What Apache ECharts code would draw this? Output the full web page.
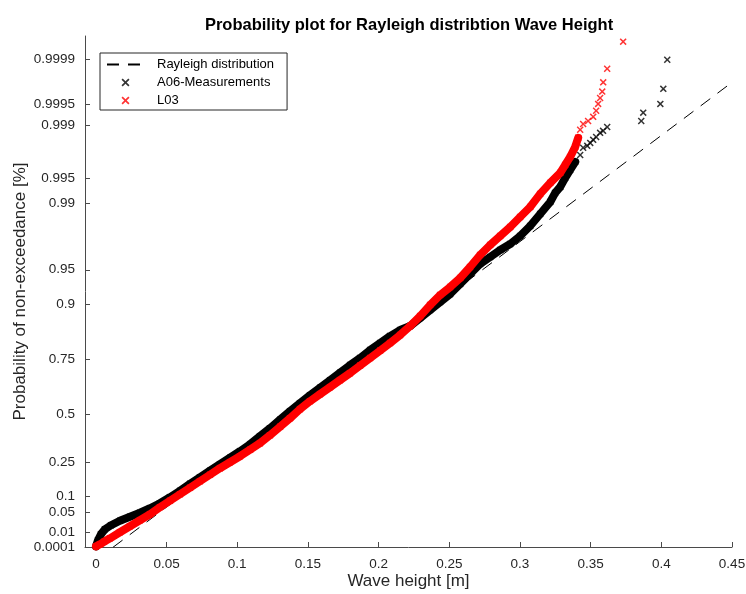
<!DOCTYPE html>
<html>
<head>
<meta charset="utf-8">
<script src="https://cdn.jsdelivr.net/npm/echarts@6/dist/echarts.min.js"></script>
<style>
  html, body { margin: 0; padding: 0; background: #ffffff; }
  #chart { width: 746px; height: 594px; }
</style>
</head>
<body>
<div id="chart"></div>
<script>
// Probability paper tick labels (non-exceedance probability)
const probTickLabels = ['0.0001', '0.01', '0.05', '0.1', '0.25', '0.5', '0.75', '0.9', '0.95', '0.99', '0.995', '0.999', '0.9995', '0.9999'];
const heightTicks = [0, 0.05, 0.1, 0.15, 0.2, 0.25, 0.3, 0.35, 0.4, 0.45];

// Fitted Rayleigh reference line (end points)
const rayleighHeight = [0.0121, 0.45];
const rayleighProb = [0.000065, 0.99977];

// A06 measurements: sorted wave heights [m] and plotting positions
const a06Height = [0.0001, 0.0015, 0.0036, 0.0064, 0.0107, 0.0170, 0.0241, 0.0312, 0.0383, 0.0453,
  0.0524, 0.0595, 0.0666, 0.0736, 0.0807, 0.0878, 0.0949, 0.1020, 0.1091, 0.1161,
  0.1232, 0.1303, 0.1374, 0.1444, 0.1515, 0.1586, 0.1657, 0.1727, 0.1798, 0.1869,
  0.1940, 0.2011, 0.2081, 0.2152, 0.2223, 0.2294, 0.2364, 0.2435, 0.2506, 0.2577,
  0.2647, 0.2718, 0.2789, 0.2860, 0.2931, 0.3001, 0.3072, 0.3143, 0.3214, 0.3249,
  0.3285, 0.3320, 0.3355, 0.3391, 0.3426, 0.3447, 0.3476, 0.3497, 0.3518, 0.3539,
  0.3567, 0.3588, 0.3617, 0.3858, 0.3872, 0.3993, 0.4014, 0.4042];
const a06Prob = [0.0002, 0.00266, 0.00787, 0.01429, 0.02076, 0.02942, 0.03831, 0.04830, 0.06081, 0.07621,
  0.09665, 0.12104, 0.1497, 0.17825, 0.20843, 0.24000, 0.27264, 0.30620, 0.34300, 0.38552,
  0.42813, 0.47300, 0.51708, 0.55744, 0.59643, 0.63153, 0.66504, 0.69678, 0.72672, 0.75298,
  0.78093, 0.80358, 0.82452, 0.84118, 0.85164, 0.87098, 0.88837, 0.90389, 0.91768, 0.93261,
  0.94525, 0.95586, 0.96224, 0.96780, 0.97199, 0.97685, 0.98189, 0.98663, 0.99025, 0.99236,
  0.99353, 0.99499, 0.99602, 0.99686, 0.99745, 0.99795, 0.99807, 0.99824, 0.99840, 0.99854,
  0.99872, 0.99880, 0.99894, 0.99913, 0.99934, 0.99951, 0.99971, 0.99990];

// L03: sorted wave heights [m] and plotting positions
const l03Height = [0.0001, 0.0029, 0.0057, 0.0100, 0.0170, 0.0241, 0.0312, 0.0383, 0.0453, 0.0524,
  0.0595, 0.0666, 0.0736, 0.0807, 0.0878, 0.0949, 0.1020, 0.1091, 0.1161, 0.1232,
  0.1303, 0.1374, 0.1444, 0.1515, 0.1586, 0.1657, 0.1727, 0.1798, 0.1869, 0.1940,
  0.2011, 0.2081, 0.2152, 0.2223, 0.2294, 0.2364, 0.2435, 0.2506, 0.2577, 0.2647,
  0.2718, 0.2789, 0.2860, 0.2931, 0.3001, 0.3072, 0.3143, 0.3214, 0.3285, 0.3320,
  0.3355, 0.3391, 0.3412, 0.3426, 0.3447, 0.3482, 0.3518, 0.3539, 0.3553, 0.3567,
  0.3582, 0.3589, 0.3617, 0.3730];
const l03Prob = [0.0002, 0.00072, 0.00179, 0.00409, 0.01022, 0.01903, 0.03047, 0.04443, 0.06376, 0.08446,
  0.10763, 0.13304, 0.16048, 0.18966, 0.22043, 0.24993, 0.28033, 0.31404, 0.34824, 0.39085,
  0.43607, 0.48086, 0.52731, 0.56731, 0.60118, 0.63381, 0.66504, 0.69473, 0.72479, 0.75298,
  0.77925, 0.80358, 0.82739, 0.85164, 0.87548, 0.89827, 0.91606, 0.92836, 0.94046, 0.95290,
  0.96392, 0.97133, 0.97685, 0.98142, 0.98556, 0.98886, 0.99215, 0.99422, 0.99566, 0.99656,
  0.99729, 0.99801, 0.99850, 0.99884, 0.99904, 0.99913, 0.99924, 0.99938, 0.99951, 0.99960,
  0.99968, 0.99977, 0.99986, 0.99995];

// Densely packed part of each sample (drawn as a continuous band of markers)
const a06DenseUpTo = 0.9969;
const l03DenseUpTo = 0.9985;

// Rayleigh probability paper: reduced variate sqrt(-2 ln(1 - p))
const rv = p => Math.sqrt(-2 * Math.log(1 - p));
const pairs = (h, p) => h.map((v, i) => [v, rv(p[i])]);

const probTickValues = probTickLabels.map(s => rv(parseFloat(s)));
const yMin = rv(0.0001);
const yMax = 4.5;

const font = '"Liberation Sans", Arial, Helvetica, sans-serif';
const textColor = '#262626';
const axisColor = '#4a4a4a';
const crossPath = 'path://M0,1.5 L1.5,0 L5,3.5 L8.5,0 L10,1.5 L6.5,5 L10,8.5 L8.5,10 L5,6.5 L1.5,10 L0,8.5 L3.5,5 Z';

const a06All = pairs(a06Height, a06Prob);
const l03All = pairs(l03Height, l03Prob);
const a06Dense = a06All.filter((d, i) => a06Prob[i] <= a06DenseUpTo);
const l03Dense = l03All.filter((d, i) => l03Prob[i] <= l03DenseUpTo);

const chart = echarts.init(document.getElementById('chart'), null, { renderer: 'canvas' });

chart.setOption({
  animation: false,
  backgroundColor: '#ffffff',
  textStyle: { fontFamily: font },
  title: {
    text: 'Probability plot for Rayleigh distribtion Wave Height',
    left: 404,
    top: 12,
    textAlign: 'center',
    textStyle: { fontFamily: font, fontSize: 16.5, fontWeight: 'bold', color: '#000000' }
  },
  grid: { left: 85, right: 14, top: 36, bottom: 47, containLabel: false, outerBoundsMode: 'none' },
  legend: {
    orient: 'vertical',
    left: 100,
    top: 53,
    padding: [5, 13, 3, 6],
    itemGap: 5,
    itemWidth: 37,
    itemHeight: 8,
    borderColor: '#262626',
    borderWidth: 1,
    backgroundColor: '#ffffff',
    textStyle: { fontFamily: font, fontSize: 13, color: '#000000', padding: [0, 0, 0, 8] },
    data: ['Rayleigh distribution', 'A06-Measurements', 'L03']
  },
  xAxis: {
    type: 'value',
    min: -0.0077,
    max: 0.45,
    name: 'Wave height [m]',
    nameLocation: 'middle',
    nameGap: 26,
    nameMoveOverlap: false,
    nameTextStyle: { fontFamily: font, fontSize: 17, color: textColor },
    axisLine: { show: true, onZero: false, lineStyle: { color: axisColor, width: 1 } },
    axisTick: { show: true, inside: true, length: 5, customValues: heightTicks, lineStyle: { color: axisColor } },
    axisLabel: {
      show: true, margin: 10, fontFamily: font, fontSize: 13.5, color: textColor,
      customValues: heightTicks,
      formatter: v => String(+v.toFixed(2))
    },
    splitLine: { show: false }
  },
  yAxis: {
    type: 'value',
    min: yMin,
    max: yMax,
    name: 'Probability of non-exceedance [%]',
    nameLocation: 'middle',
    nameGap: 56,
    nameMoveOverlap: false,
    nameTextStyle: { fontFamily: font, fontSize: 17, color: textColor },
    axisLine: { show: true, onZero: false, lineStyle: { color: axisColor, width: 1 } },
    axisTick: { show: true, inside: true, length: 5, customValues: probTickValues, lineStyle: { color: axisColor } },
    axisLabel: {
      show: true, margin: 10, fontFamily: font, fontSize: 13.5, color: textColor,
      customValues: probTickValues,
      formatter: v => {
        let best = 0;
        probTickValues.forEach((t, i) => { if (Math.abs(t - v) < Math.abs(probTickValues[best] - v)) best = i; });
        return probTickLabels[best];
      }
    },
    splitLine: { show: false }
  },
  series: [
    {
      name: 'Rayleigh distribution',
      type: 'line',
      data: pairs(rayleighHeight, rayleighProb),
      symbol: 'none',
      z: 1,
      lineStyle: { color: '#000000', width: 1, type: [12, 9] },
      itemStyle: { color: 'rgba(0,0,0,0)' }
    },
    {
      name: 'A06 band',
      type: 'line',
      data: a06Dense,
      symbol: 'none',
      silent: true,
      z: 2,
      lineStyle: { color: '#000000', width: 8, cap: 'round', join: 'round' }
    },
    {
      name: 'A06-Measurements',
      type: 'scatter',
      data: a06All,
      symbol: crossPath,
      symbolSize: 7,
      symbolKeepAspect: true,
      clip: false,
      z: 3,
      itemStyle: { color: '#000000' }
    },
    {
      name: 'L03 band',
      type: 'line',
      data: l03Dense,
      symbol: 'none',
      silent: true,
      z: 4,
      lineStyle: { color: '#ff0000', width: 8, cap: 'round', join: 'round' }
    },
    {
      name: 'L03',
      type: 'scatter',
      data: l03All,
      symbol: crossPath,
      symbolSize: 7,
      symbolKeepAspect: true,
      clip: false,
      z: 5,
      itemStyle: { color: '#ff0000' }
    }
  ]
});
</script>
</body>
</html>
